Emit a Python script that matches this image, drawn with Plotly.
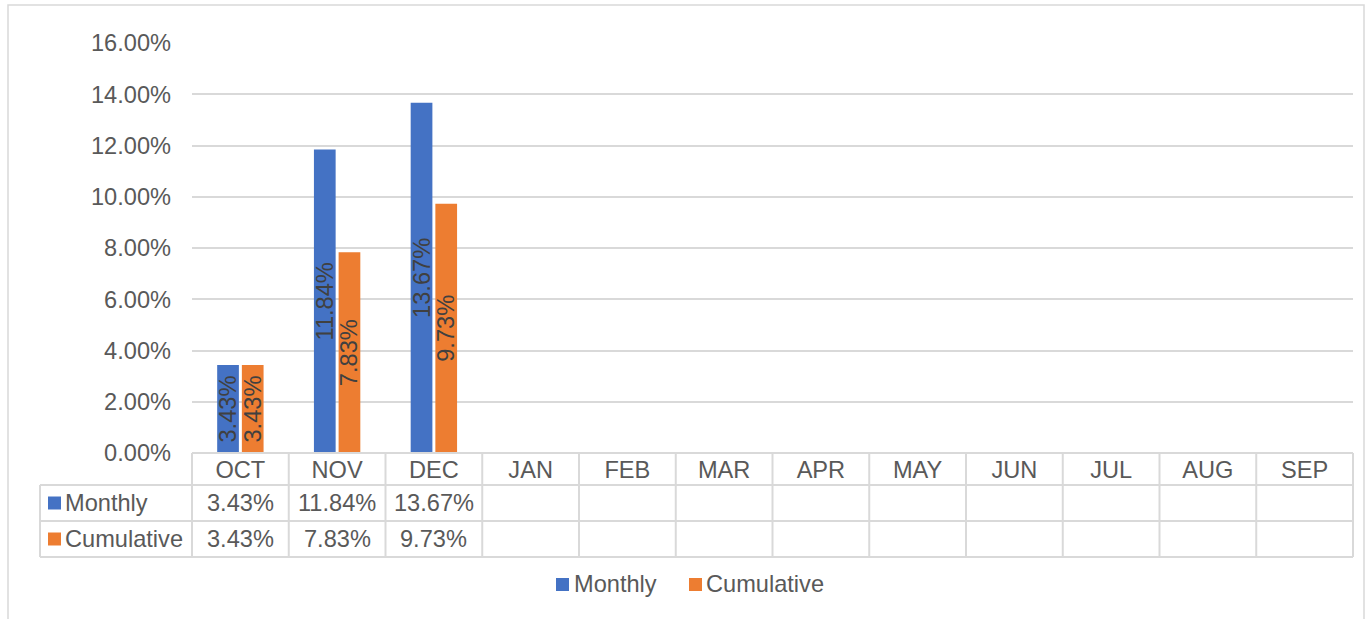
import plotly.graph_objects as go

# ---------------- data ----------------
months = ["OCT", "NOV", "DEC", "JAN", "FEB", "MAR", "APR", "MAY", "JUN", "JUL", "AUG", "SEP"]
monthly = [3.43, 11.84, 13.67, None, None, None, None, None, None, None, None, None]
cumulative = [3.43, 7.83, 9.73, None, None, None, None, None, None, None, None, None]
series_names = ["Monthly", "Cumulative"]
y_ticks = [0, 2, 4, 6, 8, 10, 12, 14, 16]

# ---------------- style ----------------
BLUE = "#4472C4"
ORANGE = "#ED7D31"
GRID = "#D9D9D9"
TXT = "#595959"
LBL = "#404040"
FONT = "Liberation Sans, Arial, sans-serif"
FS = 23.6

W, H = 1367, 619
# plot area in page pixels
L, R, T, B = 192, 1353, 43, 453
PW, PH = R - L, B - T


def px(xp):
    return (xp - L) / PW


def py(yp):
    return (B - yp) / PH


def frac(v):
    return [None if x is None else x / 100 for x in v]


def txt(v):
    return [None if x is None else f"{x:.2f}%" for x in v]


series = [(series_names[0], monthly, BLUE), (series_names[1], cumulative, ORANGE)]

fig = go.Figure()
for name, vals, col in series:
    fig.add_trace(go.Bar(
        name=name, x=months, y=frac(vals), marker=dict(color=col, line=dict(width=0)),
        text=txt(vals), textposition="inside", insidetextanchor="middle",
        textangle=-90, constraintext="none",
        textfont=dict(family=FONT, size=FS, color=LBL),
        hoverinfo="x+y+name", showlegend=False,
    ))

shapes = []
# outer chart border
shapes.append(dict(type="rect", xref="paper", yref="paper", x0=px(8), x1=px(1364),
                   y0=py(650), y1=py(5), line=dict(color=GRID, width=1.5), layer="above"))

# data table lines
row_lines = [453, 485, 521, 557]
n = len(months)
for i, yl in enumerate(row_lines):
    x0 = 0 if i == 0 else px(40)
    shapes.append(dict(type="line", xref="paper", yref="paper", x0=x0, x1=1,
                       y0=py(yl), y1=py(yl), line=dict(color=GRID, width=2)))
for i in range(n + 1):
    shapes.append(dict(type="line", xref="paper", yref="paper", x0=i / n, x1=i / n,
                       y0=py(453), y1=py(557), line=dict(color=GRID, width=2)))
shapes.append(dict(type="line", xref="paper", yref="paper", x0=px(40), x1=px(40),
                   y0=py(485), y1=py(557), line=dict(color=GRID, width=2)))

annotations = []
row_centers = [503, 539]
for (name, vals, col), yc in zip(series, row_centers):
    # legend key in table
    shapes.append(dict(type="rect", xref="paper", yref="paper", x0=px(48), x1=px(61),
                       y0=py(yc + 6.5), y1=py(yc - 6.5), fillcolor=col, line=dict(width=0)))
    annotations.append(dict(xref="paper", yref="paper", x=px(63), y=py(yc), text=name,
                            showarrow=False, xanchor="left", yanchor="middle",
                            font=dict(family=FONT, size=FS, color=TXT)))
    for m, t in zip(months, txt(vals)):
        if t is not None:
            annotations.append(dict(xref="x", yref="paper", x=m, y=py(yc), text=t,
                                    showarrow=False, xanchor="center", yanchor="middle",
                                    font=dict(family=FONT, size=FS, color=TXT)))

# bottom legend
legend_keys = [(556, 572), (689, 704)]
for (name, vals, col), (kx, tx) in zip(series, legend_keys):
    shapes.append(dict(type="rect", xref="paper", yref="paper", x0=px(kx), x1=px(kx + 13),
                       y0=py(591), y1=py(578), fillcolor=col, line=dict(width=0)))
    annotations.append(dict(xref="paper", yref="paper", x=px(tx), y=py(584), text=name,
                            showarrow=False, xanchor="left", yanchor="middle",
                            font=dict(family=FONT, size=FS, color=TXT)))

fig.update_layout(
    width=W, height=H,
    margin=dict(l=L, r=W - R, t=T, b=H - B, pad=0),
    paper_bgcolor="white", plot_bgcolor="white",
    barmode="group", bargap=0.49, bargroupgap=0.12,
    font=dict(family=FONT, size=FS, color=TXT),
    showlegend=False,
    shapes=shapes, annotations=annotations,
    xaxis=dict(categoryorder="array", categoryarray=months, showgrid=False, showline=False,
               zeroline=False, ticks="", tickfont=dict(family=FONT, size=FS, color=TXT),
               ticklabelstandoff=0, range=[-0.5, n - 0.5]),
    yaxis=dict(range=[0, 0.16], tickvals=[v / 100 for v in y_ticks], tickformat=".2%",
               showgrid=True, gridcolor=GRID, gridwidth=1.5, zeroline=False, showline=False,
               ticks="", ticklabelstandoff=20,
               tickfont=dict(family=FONT, size=FS, color=TXT)),
)

fig.write_html("out.html", config={"displayModeBar": False},
               post_script="document.body.style.margin='0';")
